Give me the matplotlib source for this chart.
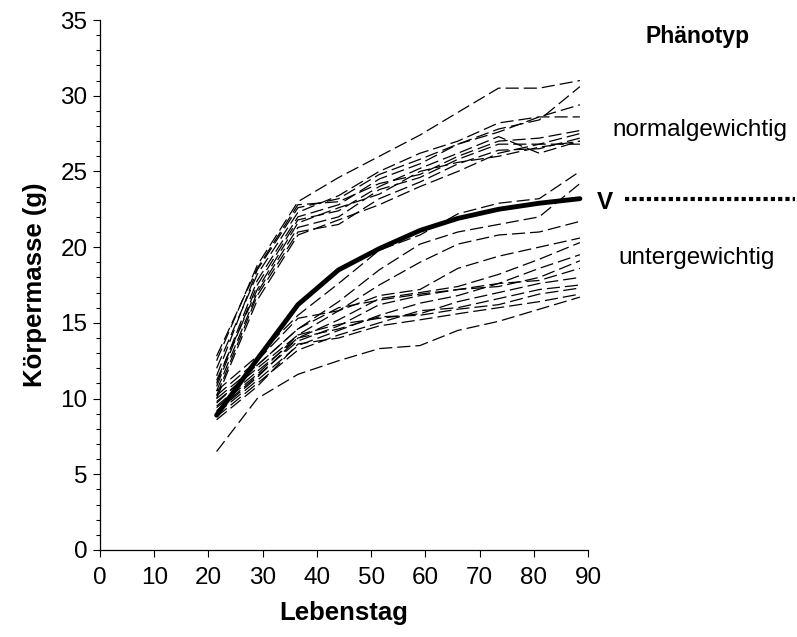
import numpy as np
import matplotlib.pyplot as plt
from matplotlib.ticker import MultipleLocator
import matplotlib.transforms as mtransforms

plt.rcParams['font.family'] = ['Liberation Sans', 'DejaVu Sans']

# Lebenstag der Messungen
days = [21.5, 29, 36.5, 44, 51.5, 59, 66, 73.5, 81, 88.5]

# normalgewichtige Tiere (Körpermasse in g)
normal = [
    [12.5, 18.8, 23.0, 24.6, 26.0, 27.4, 28.9, 30.5, 30.5, 31.0],
    [11.5, 18.5, 22.6, 23.2, 24.8, 25.8, 26.8, 27.8, 28.4, 30.6],
    [11.0, 17.8, 22.0, 22.8, 24.5, 25.5, 26.8, 27.6, 28.6, 29.4],
    [12.0, 18.2, 22.3, 23.4, 25.0, 26.2, 27.0, 28.2, 28.6, 28.6],
    [10.8, 17.5, 21.8, 22.4, 24.0, 25.2, 26.2, 27.3, 26.2, 27.0],
    [10.5, 17.0, 21.3, 22.0, 23.8, 24.6, 25.8, 26.8, 26.8, 27.5],
    [10.2, 16.8, 21.0, 21.5, 23.2, 24.3, 25.5, 26.4, 26.5, 27.2],
    [11.2, 17.2, 21.6, 22.6, 23.5, 25.0, 25.6, 26.0, 26.6, 27.0],
    [10.0, 16.5, 20.8, 21.8, 22.8, 24.0, 25.0, 26.2, 26.8, 26.8],
    [12.8, 18.6, 22.8, 23.0, 24.2, 24.8, 26.0, 27.0, 27.2, 27.7],
]

# untergewichtige Tiere (Körpermasse in g)
unter = [
    [10.5, 12.8, 15.5, 17.6, 19.8, 20.8, 22.2, 22.9, 23.2, 25.0],
    [10.0, 12.2, 14.6, 16.4, 18.5, 20.2, 21.0, 21.5, 22.0, 24.2],
    [9.8, 12.0, 14.2, 15.8, 17.5, 19.0, 20.2, 20.8, 21.0, 21.7],
    [10.2, 12.5, 15.3, 15.8, 16.8, 17.2, 18.6, 19.4, 20.0, 20.6],
    [9.5, 11.8, 14.0, 15.2, 16.6, 17.0, 17.4, 18.2, 19.2, 20.3],
    [9.2, 11.5, 13.8, 14.8, 16.2, 16.8, 17.2, 17.6, 18.6, 19.5],
    [9.7, 12.2, 14.6, 16.0, 16.5, 16.9, 17.2, 17.4, 18.0, 19.1],
    [9.0, 11.2, 13.5, 14.5, 15.5, 16.3, 16.8, 17.6, 17.8, 18.6],
    [9.4, 11.6, 14.2, 14.9, 15.3, 15.6, 16.4, 17.0, 17.6, 18.0],
    [8.8, 11.0, 13.2, 14.2, 15.0, 15.8, 16.0, 16.6, 17.2, 17.5],
    [9.1, 11.4, 14.0, 14.6, 15.4, 15.5, 15.9, 16.2, 16.9, 17.3],
    [8.6, 10.8, 13.6, 14.0, 14.8, 15.2, 15.6, 16.0, 16.4, 16.9],
    [6.5, 10.0, 11.6, 12.5, 13.3, 13.5, 14.5, 15.1, 15.9, 16.7],
]

# Trennkurve V
v_curve = [8.9, 12.6, 16.2, 18.5, 19.9, 21.1, 21.9, 22.5, 22.9, 23.2]

fig = plt.figure(figsize=(7.97, 6.37), dpi=100)
ax = fig.add_axes([0.1255, 0.1366, 0.6123, 0.832])

for row in normal + unter:
    ax.plot(days, row, color='black', lw=0.9, dashes=(10.5, 4))

ax.plot(days, v_curve, color='black', lw=3.5, solid_capstyle='round')

# gepunktete Linie rechts neben "V"
trans = mtransforms.blended_transform_factory(ax.transAxes, ax.transData)
ax.plot([1.076, 1.424], [v_curve[-1], v_curve[-1]], color='black', lw=3.0,
        dashes=(1.0, 0.75), transform=trans, clip_on=False)

ax.set_xlim(0, 90)
ax.set_ylim(0, 35)
ax.xaxis.set_major_locator(MultipleLocator(10))
ax.yaxis.set_major_locator(MultipleLocator(5))
ax.yaxis.set_minor_locator(MultipleLocator(1))
ax.tick_params(axis='both', which='major', direction='out', length=5,
               width=0.8, labelsize=17.5, pad=4)
ax.tick_params(axis='y', which='minor', direction='out', length=3, width=0.8)
ax.tick_params(axis='x', pad=7)

for side in ['top', 'right']:
    ax.spines[side].set_visible(False)
for side in ['left', 'bottom']:
    ax.spines[side].set_linewidth(0.9)

ax.set_xlabel('Lebenstag', fontsize=18.5, fontweight='bold', labelpad=9)
ax.set_ylabel('Körpermasse (g)', fontsize=18.5, fontweight='bold', labelpad=10)

fig.text(698 / 797, 1 - 37 / 637, 'Phänotyp', fontsize=16.5, fontweight='bold',
         ha='center', va='center')
fig.text(700 / 797, 1 - 130 / 637, 'normalgewichtig', fontsize=17.5,
         ha='center', va='center')
fig.text(697 / 797, 1 - 258 / 637, 'untergewichtig', fontsize=17.5,
         ha='center', va='center')
fig.text(605 / 797, 1 - 202 / 637, 'V', fontsize=17.5, fontweight='bold',
         ha='center', va='center')

fig.savefig('out.png', dpi=100)
